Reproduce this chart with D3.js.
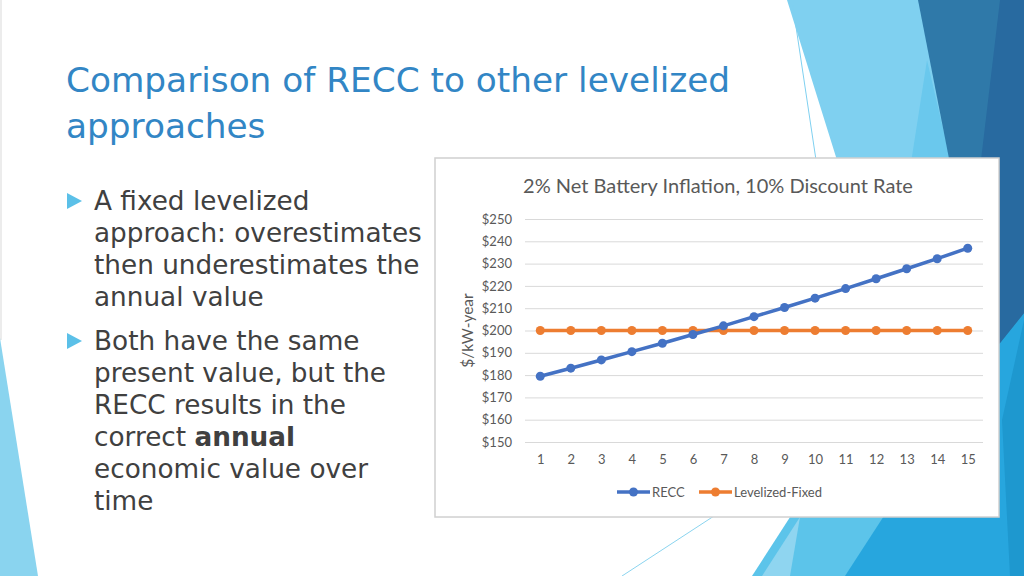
<!DOCTYPE html>
<html lang="en">
<head>
    <meta charset="UTF-8">
    <title>Comparison of RECC to other levelized approaches</title>
    <script src="https://d3js.org/d3.v7.min.js"></script>
    <style>
        body {
            margin: 0;
            background: #ffffff;
            overflow: hidden;
        }
        .slide-title {
            font-family: "DejaVu Sans", sans-serif;
            fill: #3286c5;
        }
        .bullet-text {
            font-family: "DejaVu Sans", sans-serif;
            fill: #404040;
        }
        .chart-text {
            font-family: Lato, "Liberation Sans", sans-serif;
            fill: #595959;
        }
        .grid line {
            stroke: #d9d9d9;
            stroke-width: 1;
        }
    </style>
</head>
<body>
    <div id="slide"></div>

    <script>
        // chart data
        const years = [1, 2, 3, 4, 5, 6, 7, 8, 9, 10, 11, 12, 13, 14, 15];
        const reccValues = [179.5, 183.1, 186.8, 190.5, 194.3, 198.2, 202.1, 206.2, 210.3, 214.5, 218.8, 223.2, 227.7, 232.2, 236.9];
        const levelizedValues = [200, 200, 200, 200, 200, 200, 200, 200, 200, 200, 200, 200, 200, 200, 200];
        const yTicks = [150, 160, 170, 180, 190, 200, 210, 220, 230, 240, 250];
        const seriesNames = ['RECC', 'Levelized-Fixed'];
        const chartTitle = '2% Net Battery Inflation, 10% Discount Rate';
        const yLabel = '$/kW-year';

        // slide text
        const titleLines = ['Comparison of RECC to other levelized', 'approaches'];
        const bullets = [
            ['A fixed levelized', 'approach: overestimates', 'then underestimates the', 'annual value'],
            ['Both have the same', 'present value, but the', 'RECC results in the', 'correct **annual', 'economic value over', 'time']
        ];

        const W = 1024, H = 576;
        const svg = d3.select('#slide')
            .append('svg')
            .attr('width', W)
            .attr('height', H);

        // ---- background decoration (Facet-like shapes) ----
        const deco = svg.append('g');
        const shape = (pts, fill) => deco.append('path')
            .attr('d', d3.line()(pts) + 'Z')
            .attr('fill', fill);

        shape([[0, 0], [2, 0], [2, 340], [0, 340]], '#ececec');
        shape([[0, 338], [38, 576], [0, 576]], '#8ad4ef');

        // top right
        shape([[787, 0], [1024, 0], [1024, 330], [890, 330]], '#7fd0f0');
        shape([[927, 60], [990, 330], [885, 330]], '#6ac8ed');
        // bottom right
        shape([[752, 576], [940, 285], [1024, 285], [1024, 576]], '#5cc4ea');
        shape([[762, 576], [800, 517], [790, 576]], '#8fd5f0');
        shape([[1024, 300], [1024, 576], [845, 576]], '#27a6de');
        shape([[1024, 320], [1024, 576], [1010, 576], [1002, 420]], '#1e98cf');
        // dark blue
        shape([[918, 0], [1024, 0], [1024, 313], [988, 358]], '#2f79a9');
        shape([[1000, 0], [1024, 0], [1024, 313], [1000, 343], [962, 320]], '#286aa0');

        deco.append('line')
            .attr('x1', 792).attr('y1', 0).attr('x2', 816).attr('y2', 160)
            .attr('stroke', '#7fd0f0').attr('stroke-width', 1);
        deco.append('line')
            .attr('x1', 714).attr('y1', 516).attr('x2', 622).attr('y2', 576)
            .attr('stroke', '#8ad4ef').attr('stroke-width', 1);

        // ---- slide title ----
        svg.append('text')
            .attr('class', 'slide-title')
            .attr('x', 66)
            .attr('y', 92)
            .style('font-size', '34.3px')
            .selectAll('tspan')
            .data(titleLines)
            .enter().append('tspan')
            .attr('x', 66)
            .attr('dy', (d, i) => i === 0 ? 0 : 46)
            .text(d => d);

        // ---- bullets ----
        const bulletG = svg.append('g');
        let lineY = 210;
        bullets.forEach((lines, bi) => {
            bulletG.append('path')
                .attr('d', d3.line()([[67, lineY - 17], [82, lineY - 9], [67, lineY - 1]]) + 'Z')
                .attr('fill', '#5bc0e8');
            lines.forEach(line => {
                const t = bulletG.append('text')
                    .attr('class', 'bullet-text')
                    .attr('x', 94)
                    .attr('y', lineY)
                    .style('font-size', '26.3px');
                const parts = line.split('**');
                t.append('tspan').text(parts[0]);
                if (parts.length > 1) {
                    t.append('tspan').style('font-weight', 'bold').text(parts[1]);
                }
                lineY += 32;
            });
            lineY += 12;
        });

        // ---- chart box ----
        const box = {x: 435, y: 158, w: 564, h: 359};
        svg.append('rect')
            .attr('x', box.x)
            .attr('y', box.y)
            .attr('width', box.w)
            .attr('height', box.h)
            .attr('fill', '#ffffff')
            .attr('stroke', '#d0d0d0')
            .attr('stroke-width', 1.5);

        const plot = {left: 525, right: 983, top: 219, bottom: 442};

        const x = d3.scalePoint()
            .domain(years)
            .range([plot.left, plot.right])
            .padding(0.5);

        const y = d3.scaleLinear()
            .domain([150, 250])
            .range([plot.bottom, plot.top]);

        // gridlines
        svg.append('g')
            .attr('class', 'grid')
            .attr('transform', `translate(${plot.left},0)`)
            .call(d3.axisRight(y).tickValues(yTicks).tickSize(plot.right - plot.left).tickFormat(''))
            .call(g => g.select('.domain').remove());

        // y axis labels
        svg.append('g')
            .attr('transform', `translate(${plot.left},0)`)
            .call(d3.axisLeft(y).tickValues(yTicks).tickSize(0).tickPadding(13).tickFormat(d => '$' + d))
            .call(g => g.select('.domain').remove())
            .selectAll('text')
            .attr('class', 'chart-text')
            .style('font-size', '13px')
            .attr('fill', '#595959');

        // x axis labels
        svg.append('g')
            .attr('transform', `translate(0,${plot.bottom})`)
            .call(d3.axisBottom(x).tickSize(0).tickPadding(13))
            .call(g => g.select('.domain').remove())
            .selectAll('text')
            .attr('class', 'chart-text')
            .style('font-size', '13px')
            .attr('fill', '#595959');

        // chart title
        svg.append('text')
            .attr('class', 'chart-text')
            .attr('x', 718)
            .attr('y', 193)
            .attr('text-anchor', 'middle')
            .style('font-size', '20px')
            .text(chartTitle);

        // y axis title
        svg.append('text')
            .attr('class', 'chart-text')
            .attr('transform', `translate(473,${(plot.top + plot.bottom) / 2}) rotate(-90)`)
            .attr('text-anchor', 'middle')
            .style('font-size', '15.5px')
            .text(yLabel);

        // series
        const colors = ['#4472c4', '#ed7d31'];
        const seriesData = [reccValues, levelizedValues];
        const line = d3.line()
            .x((d, i) => x(years[i]))
            .y(d => y(d));

        // orange first, blue drawn on top
        [1, 0].forEach(si => {
            const g = svg.append('g');
            g.append('path')
                .datum(seriesData[si])
                .attr('d', line)
                .attr('fill', 'none')
                .attr('stroke', colors[si])
                .attr('stroke-width', 3.5)
                .attr('stroke-linejoin', 'round');
            g.selectAll('circle')
                .data(seriesData[si])
                .enter().append('circle')
                .attr('cx', (d, i) => x(years[i]))
                .attr('cy', d => y(d))
                .attr('r', 4.5)
                .attr('fill', colors[si]);
        });

        // legend
        const legend = svg.append('g').attr('transform', 'translate(617,492)');
        const legendX = [0, 82];
        seriesNames.forEach((name, i) => {
            const g = legend.append('g').attr('transform', `translate(${legendX[i]},0)`);
            g.append('line')
                .attr('x1', 0).attr('x2', 33)
                .attr('y1', 0).attr('y2', 0)
                .attr('stroke', colors[i])
                .attr('stroke-width', 3.5);
            g.append('circle')
                .attr('cx', 16.5).attr('cy', 0).attr('r', 4.5)
                .attr('fill', colors[i]);
            g.append('text')
                .attr('class', 'chart-text')
                .attr('x', 35)
                .attr('y', 0)
                .attr('dy', '0.35em')
                .style('font-size', '13px')
                .text(name);
        });
    </script>
</body>
</html>
